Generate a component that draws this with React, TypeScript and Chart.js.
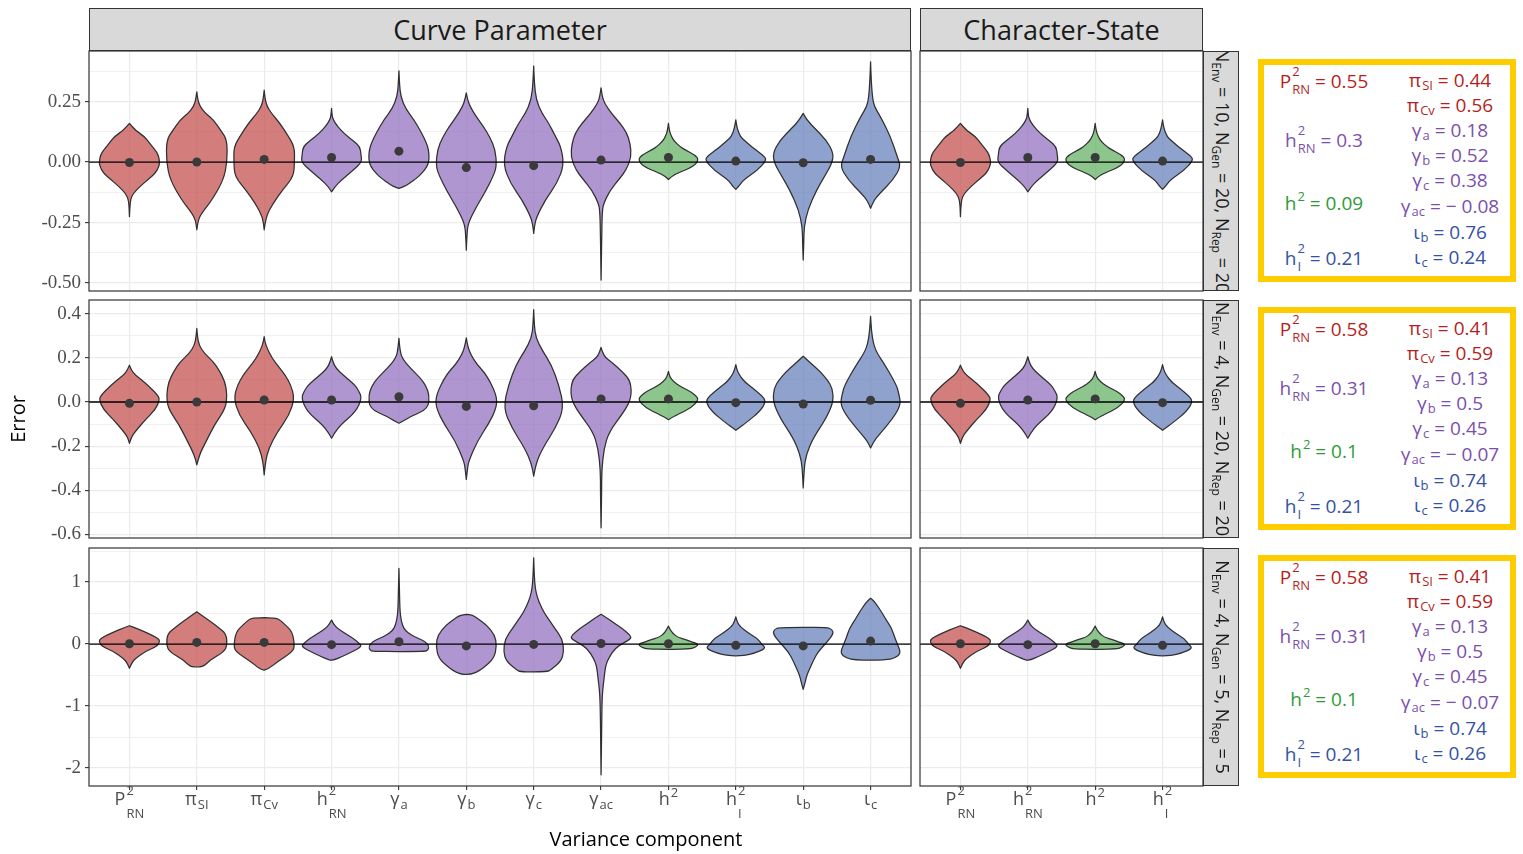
import React, { useEffect, useRef } from 'react';
import { Chart, registerables } from 'chart.js';
Chart.register(...registerables);

// ---------------- data ----------------
const CAT_GROUP = ['red', 'red', 'red', 'purple', 'purple', 'purple', 'purple', 'purple', 'green', 'blue', 'blue', 'blue'];
const STATE_INDEX = [0, 3, 8, 9];

const X_BASE = ['P', 'π', 'π', 'h', 'γ', 'γ', 'γ', 'γ', 'h', 'h', 'ι', 'ι'];
const X_SUP = ['2', '', '', '2', '', '', '', '', '2', '2', '', ''];
const X_SUB = ['RN', 'SI', 'Cv', 'RN', 'a', 'b', 'c', 'ac', '', 'I', 'b', 'c'];

const ROW1_MAJOR = [-0.5, -0.25, 0, 0.25];
const ROW1_MINOR = [-0.375, -0.125, 0.125, 0.375];
const ROW1_LABELS = ['-0.50', '-0.25', '0.00', '0.25'];
const ROW2_MAJOR = [-0.6, -0.4, -0.2, 0, 0.2, 0.4];
const ROW2_MINOR = [-0.5, -0.3, -0.1, 0.1, 0.3];
const ROW2_LABELS = ['-0.6', '-0.4', '-0.2', '0.0', '0.2', '0.4'];
const ROW3_MAJOR = [-2, -1, 0, 1];
const ROW3_MINOR = [-1.5, -0.5, 0.5, 1.5];
const ROW3_LABELS = ['-2', '-1', '0', '1'];
const ROW_LIMITS = [[-0.533, 0.459], [-0.616, 0.462], [-2.29, 1.55]];

// violin profiles: [value, relative half-width]
const ROW1_PROFILES = [
  [[-0.226, 0], [-0.16, 0.02], [-0.13, 0.12], [-0.1, 0.36], [-0.07, 0.63], [-0.047, 0.85], [-0.02, 0.97], [0, 1], [0.03, 0.95], [0.05, 0.85], [0.08, 0.65], [0.105, 0.5], [0.132, 0.19], [0.16, 0]],
  [[-0.28, 0], [-0.24, 0.04], [-0.21, 0.17], [-0.157, 0.5], [-0.074, 0.88], [0, 1], [0.09, 1], [0.13, 0.8], [0.174, 0.55], [0.2, 0.3], [0.23, 0.1], [0.26, 0.03], [0.29, 0]],
  [[-0.28, 0], [-0.226, 0.05], [-0.17, 0.3], [-0.116, 0.6], [-0.06, 0.97], [0, 1], [0.063, 1], [0.11, 0.78], [0.16, 0.52], [0.2, 0.25], [0.228, 0.1], [0.26, 0.03], [0.297, 0]],
  [[-0.123, 0], [-0.1, 0.12], [-0.074, 0.33], [-0.033, 0.72], [0, 1], [0.03, 0.97], [0.063, 0.94], [0.09, 0.7], [0.118, 0.41], [0.15, 0.18], [0.174, 0.06], [0.19, 0.02], [0.222, 0]],
  [[-0.109, 0], [-0.1, 0.2], [-0.088, 0.35], [-0.065, 0.6], [-0.047, 0.75], [-0.02, 0.93], [0.01, 1], [0.05, 0.98], [0.08, 0.9], [0.12, 0.75], [0.174, 0.5], [0.22, 0.22], [0.27, 0.06], [0.32, 0.02], [0.377, 0]],
  [[-0.364, 0], [-0.3, 0.02], [-0.253, 0.06], [-0.185, 0.33], [-0.116, 0.66], [-0.06, 0.88], [-0.019, 1], [0.05, 0.96], [0.105, 0.77], [0.15, 0.55], [0.187, 0.33], [0.23, 0.12], [0.26, 0.04], [0.286, 0]],
  [[-0.295, 0], [-0.26, 0.03], [-0.226, 0.1], [-0.157, 0.38], [-0.088, 0.77], [-0.012, 1], [0.063, 0.9], [0.11, 0.7], [0.16, 0.5], [0.2, 0.28], [0.256, 0.08], [0.33, 0.02], [0.397, 0]],
  [[-0.488, 0], [-0.3, 0.02], [-0.2, 0.04], [-0.17, 0.09], [-0.116, 0.3], [-0.07, 0.6], [-0.033, 0.83], [0.022, 1], [0.077, 0.96], [0.12, 0.85], [0.16, 0.63], [0.2, 0.35], [0.242, 0.12], [0.27, 0.04], [0.307, 0]],
  [[-0.072, 0], [-0.06, 0.1], [-0.047, 0.28], [-0.019, 0.83], [0.01, 1], [0.029, 0.88], [0.05, 0.55], [0.063, 0.39], [0.085, 0.2], [0.105, 0.1], [0.13, 0.03], [0.16, 0]],
  [[-0.113, 0], [-0.1, 0.1], [-0.074, 0.25], [-0.033, 0.72], [0.006, 1], [0.022, 0.96], [0.063, 0.52], [0.09, 0.28], [0.105, 0.15], [0.14, 0.04], [0.174, 0]],
  [[-0.405, 0], [-0.33, 0.02], [-0.267, 0.03], [-0.198, 0.15], [-0.116, 0.44], [-0.06, 0.7], [-0.006, 0.95], [0.036, 1], [0.09, 0.77], [0.146, 0.33], [0.175, 0.12], [0.201, 0]],
  [[-0.191, 0], [-0.16, 0.1], [-0.13, 0.3], [-0.074, 0.74], [-0.019, 1], [0.022, 0.88], [0.105, 0.66], [0.187, 0.33], [0.23, 0.12], [0.27, 0.06], [0.34, 0.02], [0.414, 0]],
];
const ROW1_MEANS = [-0.002, 0.0, 0.011, 0.019, 0.045, -0.023, -0.015, 0.008, 0.019, 0.004, -0.003, 0.011];

const ROW2_PROFILES = [
  [[-0.187, 0], [-0.16, 0.06], [-0.134, 0.19], [-0.081, 0.52], [-0.036, 0.85], [0.01, 1], [0.032, 0.93], [0.077, 0.6], [0.1, 0.4], [0.122, 0.2], [0.145, 0.06], [0.167, 0]],
  [[-0.285, 0], [-0.24, 0.08], [-0.18, 0.3], [-0.104, 0.58], [-0.029, 0.95], [0.032, 1], [0.092, 0.93], [0.14, 0.75], [0.182, 0.55], [0.22, 0.25], [0.258, 0.07], [0.3, 0.02], [0.333, 0]],
  [[-0.33, 0], [-0.27, 0.04], [-0.21, 0.15], [-0.134, 0.44], [-0.059, 0.83], [0.017, 1], [0.077, 0.88], [0.12, 0.7], [0.152, 0.52], [0.2, 0.25], [0.243, 0.1], [0.27, 0.03], [0.296, 0]],
  [[-0.164, 0], [-0.14, 0.1], [-0.104, 0.3], [-0.044, 0.8], [0.017, 1], [0.05, 0.9], [0.077, 0.77], [0.12, 0.4], [0.152, 0.15], [0.18, 0.05], [0.205, 0]],
  [[-0.096, 0], [-0.085, 0.15], [-0.066, 0.39], [-0.029, 0.97], [0.032, 1], [0.07, 0.9], [0.107, 0.72], [0.15, 0.4], [0.198, 0.1], [0.24, 0.03], [0.288, 0]],
  [[-0.351, 0], [-0.3, 0.04], [-0.268, 0.08], [-0.178, 0.36], [-0.103, 0.72], [-0.027, 1], [0.033, 1], [0.124, 0.66], [0.17, 0.35], [0.214, 0.15], [0.25, 0.05], [0.29, 0]],
  [[-0.336, 0], [-0.28, 0.07], [-0.208, 0.3], [-0.118, 0.72], [-0.027, 1], [0.078, 0.83], [0.169, 0.58], [0.23, 0.3], [0.29, 0.07], [0.35, 0.02], [0.418, 0]],
  [[-0.57, 0], [-0.4, 0.02], [-0.31, 0.02], [-0.208, 0.1], [-0.133, 0.27], [-0.042, 0.77], [0.018, 1], [0.094, 0.98], [0.139, 0.69], [0.18, 0.35], [0.2, 0.15], [0.225, 0.05], [0.247, 0]],
  [[-0.08, 0], [-0.07, 0.12], [-0.057, 0.3], [-0.027, 0.75], [0.01, 1], [0.03, 0.9], [0.048, 0.72], [0.07, 0.4], [0.094, 0.15], [0.115, 0.04], [0.139, 0]],
  [[-0.128, 0], [-0.115, 0.12], [-0.095, 0.33], [-0.042, 0.8], [0.003, 1], [0.03, 0.85], [0.063, 0.55], [0.09, 0.3], [0.116, 0.15], [0.14, 0.05], [0.169, 0]],
  [[-0.389, 0], [-0.3, 0.03], [-0.238, 0.1], [-0.163, 0.33], [-0.072, 0.77], [0.003, 1], [0.063, 0.96], [0.1, 0.8], [0.139, 0.55], [0.175, 0.25], [0.207, 0]],
  [[-0.208, 0], [-0.18, 0.1], [-0.148, 0.28], [-0.072, 0.75], [-0.012, 1], [0.04, 0.93], [0.078, 0.85], [0.169, 0.47], [0.22, 0.22], [0.259, 0.1], [0.32, 0.03], [0.388, 0]],
];
const ROW2_MEANS = [-0.006, 0.0, 0.009, 0.009, 0.024, -0.02, -0.017, 0.014, 0.014, -0.003, -0.009, 0.008];

const ROW3_PROFILES = [
  [[-0.39, 0], [-0.3, 0.08], [-0.23, 0.2], [-0.12, 0.52], [-0.04, 0.9], [0.03, 1], [0.09, 0.97], [0.2, 0.5], [0.26, 0.2], [0.296, 0]],
  [[-0.37, 0], [-0.365, 0.2], [-0.3, 0.35], [-0.26, 0.45], [-0.12, 0.9], [-0.02, 1], [0.17, 0.97], [0.27, 0.7], [0.36, 0.47], [0.45, 0.2], [0.52, 0]],
  [[-0.42, 0], [-0.4, 0.15], [-0.28, 0.45], [-0.12, 0.95], [-0.02, 1], [0.2, 0.93], [0.33, 0.65], [0.41, 0.47], [0.42, 0.3], [0.425, 0]],
  [[-0.26, 0], [-0.255, 0.1], [-0.2, 0.35], [-0.12, 0.7], [-0.04, 1], [0.02, 0.9], [0.09, 0.72], [0.17, 0.45], [0.25, 0.2], [0.32, 0.07], [0.387, 0]],
  [[-0.12, 0], [-0.118, 0.85], [-0.1, 0.95], [-0.04, 1], [0.04, 0.88], [0.1, 0.6], [0.145, 0.41], [0.22, 0.2], [0.31, 0.11], [0.45, 0.05], [0.6, 0.03], [0.8, 0.02], [1.22, 0]],
  [[-0.49, 0], [-0.485, 0.15], [-0.45, 0.35], [-0.39, 0.55], [-0.23, 0.92], [-0.02, 1], [0.145, 0.94], [0.31, 0.66], [0.4, 0.4], [0.47, 0.2], [0.48, 0]],
  [[-0.45, 0], [-0.445, 0.45], [-0.42, 0.55], [-0.28, 0.9], [-0.12, 1], [0.09, 0.94], [0.25, 0.7], [0.36, 0.55], [0.5, 0.35], [0.63, 0.22], [0.75, 0.12], [0.9, 0.05], [1.1, 0.02], [1.39, 0]],
  [[-2.11, 0], [-1.2, 0.02], [-0.8, 0.04], [-0.55, 0.1], [-0.34, 0.15], [-0.23, 0.25], [-0.07, 0.45], [0.02, 0.75], [0.09, 1], [0.15, 0.95], [0.25, 0.7], [0.33, 0.45], [0.42, 0.2], [0.48, 0]],
  [[-0.085, 0], [-0.08, 0.7], [-0.05, 0.9], [0, 1], [0.04, 0.75], [0.065, 0.61], [0.11, 0.3], [0.17, 0.15], [0.23, 0.06], [0.29, 0]],
  [[-0.19, 0], [-0.185, 0.3], [-0.15, 0.6], [-0.07, 1], [0.0, 0.85], [0.09, 0.72], [0.18, 0.4], [0.28, 0.15], [0.35, 0.05], [0.44, 0]],
  [[-0.73, 0], [-0.61, 0.07], [-0.5, 0.12], [-0.39, 0.22], [-0.25, 0.35], [-0.12, 0.5], [0.04, 0.8], [0.17, 1], [0.24, 0.95], [0.27, 0.77], [0.27, 0]],
  [[-0.26, 0], [-0.255, 0.5], [-0.23, 0.8], [-0.15, 1], [-0.02, 0.9], [0.1, 0.8], [0.25, 0.7], [0.4, 0.5], [0.52, 0.36], [0.62, 0.22], [0.7, 0.1], [0.74, 0]],
];
const ROW3_MEANS = [0.005, 0.027, 0.027, -0.01, 0.037, -0.03, -0.005, 0.01, 0.005, -0.02, -0.03, 0.048];

const BOX_LEFT_BASE = ['P', 'h', 'h', 'h'];
const BOX_LEFT_SUP = ['2', '2', '2', '2'];
const BOX_LEFT_SUB = ['RN', 'RN', '', 'I'];
const BOX_LEFT_GROUP = ['red', 'purple', 'green', 'blue'];
const BOX_RIGHT_BASE = ['π', 'π', 'γ', 'γ', 'γ', 'γ', 'ι', 'ι'];
const BOX_RIGHT_SUB = ['SI', 'Cv', 'a', 'b', 'c', 'ac', 'b', 'c'];
const BOX_RIGHT_GROUP = ['red', 'red', 'purple', 'purple', 'purple', 'purple', 'blue', 'blue'];
const BOX_LEFT_VALUES = [['0.55', '0.3', '0.09', '0.21'], ['0.58', '0.31', '0.1', '0.21'], ['0.58', '0.31', '0.1', '0.21']];
const BOX_RIGHT_VALUES = [
  ['0.44', '0.56', '0.18', '0.52', '0.38', '− 0.08', '0.76', '0.24'],
  ['0.41', '0.59', '0.13', '0.5', '0.45', '− 0.07', '0.74', '0.26'],
  ['0.41', '0.59', '0.13', '0.5', '0.45', '− 0.07', '0.74', '0.26'],
];
const STRIP_ENV = ['10', '4', '4'];
const STRIP_GEN = ['20', '20', '5'];
const STRIP_REP = ['20', '20', '5'];
const COL_STRIPS = ['Curve Parameter', 'Character-State'];

// ---------------- styling / layout ----------------
const ROW_PROFILES = [ROW1_PROFILES, ROW2_PROFILES, ROW3_PROFILES];
const ROW_MEANS = [ROW1_MEANS, ROW2_MEANS, ROW3_MEANS];
const ROW_MAJOR = [ROW1_MAJOR, ROW2_MAJOR, ROW3_MAJOR];
const ROW_MINOR = [ROW1_MINOR, ROW2_MINOR, ROW3_MINOR];
const ROW_LABELS = [ROW1_LABELS, ROW2_LABELS, ROW3_LABELS];

const HALF_WIDTH = 0.45;
const FILL: Record<string, string> = {
  red: 'rgba(196,82,82,0.75)',
  purple: 'rgba(150,115,192,0.75)',
  green: 'rgba(102,179,102,0.75)',
  blue: 'rgba(106,131,190,0.75)',
};
const TEXT_COLOR: Record<string, string> = {
  red: '#B51F24',
  purple: '#7B50AC',
  green: '#2F9A35',
  blue: '#3451A6',
};
const COL_LEFT = [89, 920];
const COL_RIGHT = [911, 1203];
const ROW_TOP = [51, 300, 548];
const ROW_BOTTOM = [291, 538, 786];
const FONT = '"Open Sans", "DejaVu Sans", sans-serif';

function smoothSide(ctx: CanvasRenderingContext2D, pts: { x: number; y: number }[], start: boolean) {
  if (start) ctx.moveTo(pts[0].x, pts[0].y);
  else ctx.lineTo(pts[0].x, pts[0].y);
  for (let i = 1; i < pts.length - 1; i++) {
    const mx = (pts[i].x + pts[i + 1].x) / 2;
    const my = (pts[i].y + pts[i + 1].y) / 2;
    ctx.quadraticCurveTo(pts[i].x, pts[i].y, mx, my);
  }
  const last = pts[pts.length - 1];
  ctx.lineTo(last.x, last.y);
}

function zeroPadding(s: any) {
  s.paddingTop = 0;
  s.paddingBottom = 0;
  s.paddingLeft = 0;
  s.paddingRight = 0;
}

function Panel({ row, col }: { row: number; col: number }) {
  const ref = useRef<HTMLCanvasElement>(null);
  const canvasLeft = col === 0 ? 0 : 918;
  const yAxisW = COL_LEFT[col] - canvasLeft;
  const canvasW = COL_RIGHT[col] + 2 - canvasLeft;
  const canvasTop = ROW_TOP[row] - 2;
  const isBottom = row === 2;
  const xAxisH = isBottom ? 46 : 0;
  const canvasH = ROW_BOTTOM[row] - canvasTop + (isBottom ? xAxisH : 2);

  useEffect(() => {
    const cats = col === 0 ? CAT_GROUP.map((_, i) => i) : STATE_INDEX;
    const profiles = cats.map((i) => ROW_PROFILES[row][i]);
    const groups = cats.map((i) => CAT_GROUP[i]);
    const means = cats.map((i) => ROW_MEANS[row][i]);
    const major = ROW_MAJOR[row];
    const minor = ROW_MINOR[row];
    const labels = ROW_LABELS[row];
    const isMajor = (v: number) => major.some((m) => Math.abs(m - v) < 1e-9);

    const decor = {
      id: 'panelDecor',
      beforeDatasetsDraw(chart: any) {
        const { ctx, chartArea, scales } = chart;
        const xs = scales.x;
        const ys = scales.y;
        ctx.save();
        ctx.beginPath();
        ctx.rect(chartArea.left, chartArea.top, chartArea.right - chartArea.left, chartArea.bottom - chartArea.top);
        ctx.clip();
        profiles.forEach((prof: number[][], i: number) => {
          const c = i + 1;
          const right = prof.map(([v, w]) => ({ x: xs.getPixelForValue(c + w * HALF_WIDTH), y: ys.getPixelForValue(v) }));
          const left = prof.slice().reverse().map(([v, w]) => ({ x: xs.getPixelForValue(c - w * HALF_WIDTH), y: ys.getPixelForValue(v) }));
          ctx.beginPath();
          smoothSide(ctx, right, true);
          smoothSide(ctx, left, false);
          ctx.closePath();
          ctx.fillStyle = FILL[groups[i]];
          ctx.fill();
          ctx.lineWidth = 1.25;
          ctx.lineJoin = 'round';
          ctx.strokeStyle = '#303030';
          ctx.stroke();
        });
        const y0 = ys.getPixelForValue(0);
        ctx.beginPath();
        ctx.moveTo(chartArea.left, y0);
        ctx.lineTo(chartArea.right, y0);
        ctx.lineWidth = 1.3;
        ctx.strokeStyle = '#000000';
        ctx.stroke();
        ctx.restore();
      },
      afterDraw(chart: any) {
        const { ctx, chartArea, scales } = chart;
        ctx.save();
        ctx.lineWidth = 1.2;
        ctx.strokeStyle = '#333333';
        ctx.strokeRect(chartArea.left, chartArea.top, chartArea.right - chartArea.left, chartArea.bottom - chartArea.top);
        if (isBottom) {
          const xs = scales.x;
          const baseY = chartArea.bottom + 19;
          ctx.fillStyle = '#4D4D4D';
          ctx.textBaseline = 'alphabetic';
          ctx.textAlign = 'left';
          cats.forEach((ci: number, i: number) => {
            const cx = xs.getPixelForValue(i + 1);
            const base = X_BASE[ci];
            const sup = X_SUP[ci];
            const sub = X_SUB[ci];
            ctx.font = `18px ${FONT}`;
            const wb = ctx.measureText(base).width;
            ctx.font = `13px ${FONT}`;
            const ws = Math.max(sup ? ctx.measureText(sup).width : 0, sub ? ctx.measureText(sub).width : 0);
            const gap = ws > 0 ? 1 : 0;
            const start = cx - (wb + gap + ws) / 2;
            ctx.font = `18px ${FONT}`;
            ctx.fillText(base, start, baseY);
            ctx.font = `13px ${FONT}`;
            const stacked = !!sup && !!sub;
            if (sup) ctx.fillText(sup, start + wb + gap, baseY - (stacked ? 10 : 8));
            if (sub) ctx.fillText(sub, start + wb + gap, baseY + (stacked ? 13 : 4));
          });
        }
        ctx.restore();
      },
    };

    const yTicks = [...major, ...minor].sort((a, b) => a - b);
    const chart = new Chart(ref.current as HTMLCanvasElement, {
      type: 'scatter',
      data: {
        datasets: [
          {
            data: means.map((m, i) => ({ x: i + 1, y: m })),
            pointRadius: 4.5,
            pointHoverRadius: 4.5,
            pointBackgroundColor: '#3a3a3a',
            pointBorderWidth: 0,
          },
        ],
      },
      options: {
        animation: false,
        responsive: false,
        events: [],
        layout: { autoPadding: false, padding: { left: 0, right: 2, top: 2, bottom: isBottom ? 0 : 2 } },
        plugins: { legend: { display: false }, tooltip: { enabled: false } },
        scales: {
          x: {
            type: 'linear',
            min: 0.4,
            max: cats.length + 0.6,
            bounds: 'data',
            afterBuildTicks: (s: any) => {
              s.ticks = cats.map((_: number, i: number) => ({ value: i + 1 }));
            },
            afterFit: (s: any) => {
              s.height = xAxisH;
              zeroPadding(s);
            },
            border: { display: false },
            grid: {
              color: '#EBEBEB',
              lineWidth: 1.2,
              drawTicks: isBottom,
              tickLength: 4,
              tickColor: '#333333',
              tickWidth: 1.1,
            },
            ticks: { display: false, autoSkip: false },
          },
          y: {
            type: 'linear',
            min: ROW_LIMITS[row][0],
            max: ROW_LIMITS[row][1],
            bounds: 'data',
            afterBuildTicks: (s: any) => {
              s.ticks = yTicks.map((v) => ({ value: v }));
            },
            afterFit: (s: any) => {
              s.width = yAxisW;
              zeroPadding(s);
            },
            border: { display: false },
            grid: {
              color: '#EBEBEB',
              lineWidth: (c: any) => (c.tick && isMajor(c.tick.value) ? 1.2 : 0.7),
              drawTicks: col === 0,
              tickLength: 4,
              tickColor: (c: any) => (c.tick && isMajor(c.tick.value) ? '#333333' : 'rgba(0,0,0,0)'),
              tickWidth: 1.1,
            },
            ticks: {
              display: col === 0,
              autoSkip: false,
              padding: 4,
              color: '#4D4D4D',
              font: { family: '"Liberation Serif", serif', size: 19 },
              callback: (v: any) => {
                const k = major.findIndex((m) => Math.abs(m - Number(v)) < 1e-9);
                return k >= 0 ? labels[k] : '';
              },
            },
            title: {
              display: col === 0 && row === 1,
              text: 'Error',
              color: '#000000',
              font: { family: FONT, size: 20 },
              padding: { top: 7, bottom: 0 },
            },
          },
        },
      },
      plugins: [decor],
    } as any);
    return () => chart.destroy();
  }, []);

  return (
    <canvas
      ref={ref}
      width={canvasW}
      height={canvasH}
      style={{ position: 'absolute', left: canvasLeft, top: canvasTop, width: canvasW, height: canvasH }}
    />
  );
}

function Scripts({ sup, sub, fs, supOff, subOff, stackSupOff, stackSubOff }: any) {
  const s = Math.round(fs * 0.7);
  if (sup && sub) {
    const supInFlow = sup.length >= sub.length;
    const inflow = supInFlow ? sup : sub;
    const abs = supInFlow ? sub : sup;
    return (
      <span style={{ display: 'inline-block', position: 'relative', fontSize: s, lineHeight: 0, marginLeft: 1 }}>
        <span style={{ position: 'relative', top: supInFlow ? stackSupOff : stackSubOff }}>{inflow}</span>
        <span style={{ position: 'absolute', left: 0, top: supInFlow ? stackSubOff : stackSupOff }}>{abs}</span>
      </span>
    );
  }
  if (sup) return <span style={{ position: 'relative', top: supOff, fontSize: s, marginLeft: 1 }}>{sup}</span>;
  if (sub) return <span style={{ position: 'relative', top: subOff, fontSize: s, marginLeft: 1 }}>{sub}</span>;
  return null;
}

function BoxLine({ cx, baseline, color, base, sup, sub, value }: any) {
  const fs = 19;
  return (
    <div
      style={{
        position: 'absolute',
        left: cx,
        top: baseline - 0.388 * fs,
        transform: 'translateX(-50%)',
        whiteSpace: 'nowrap',
        lineHeight: 0,
        fontSize: fs,
        color,
        fontFamily: FONT,
      }}
    >
      {base}
      <Scripts sup={sup} sub={sub} fs={fs} supOff={-9} subOff={3} stackSupOff={-12} stackSubOff={6} />
      {' = ' + value}
    </div>
  );
}

const BOX_TOPS = [59, 307, 555];
const LEFT_BASELINES = [29, 88, 151, 206];
const RIGHT_BASELINES = [28, 53, 78, 103, 128, 154, 180, 205];

function AnnotationBox({ row }: { row: number }) {
  const top = BOX_TOPS[row];
  return (
    <>
      <div
        style={{
          position: 'absolute',
          left: 1258,
          top,
          width: 258,
          height: 223,
          boxSizing: 'border-box',
          border: '6px solid #FFCC00',
          background: '#FFFFFF',
        }}
      />
      {BOX_LEFT_BASE.map((b, i) => (
        <BoxLine
          key={'l' + i}
          cx={1324}
          baseline={top + LEFT_BASELINES[i]}
          color={TEXT_COLOR[BOX_LEFT_GROUP[i]]}
          base={b}
          sup={BOX_LEFT_SUP[i]}
          sub={BOX_LEFT_SUB[i]}
          value={BOX_LEFT_VALUES[row][i]}
        />
      ))}
      {BOX_RIGHT_BASE.map((b, i) => (
        <BoxLine
          key={'r' + i}
          cx={1450}
          baseline={top + RIGHT_BASELINES[i]}
          color={TEXT_COLOR[BOX_RIGHT_GROUP[i]]}
          base={b}
          sup=""
          sub={BOX_RIGHT_SUB[i]}
          value={BOX_RIGHT_VALUES[row][i]}
        />
      ))}
    </>
  );
}

function RowStrip({ row }: { row: number }) {
  const sub = (t: string) => (
    <span style={{ fontSize: 12, position: 'relative', top: 4 }}>{t}</span>
  );
  return (
    <div
      style={{
        position: 'absolute',
        left: 1203,
        top: ROW_TOP[row],
        width: 36,
        height: ROW_BOTTOM[row] - ROW_TOP[row],
        boxSizing: 'border-box',
        border: '1px solid #333333',
        background: '#D9D9D9',
        overflow: 'hidden',
      }}
    >
      <div
        style={{
          position: 'absolute',
          left: '50%',
          top: '50%',
          transform: 'translate(-50%, -50%) rotate(90deg)',
          whiteSpace: 'nowrap',
          fontSize: 18,
          lineHeight: '20px',
          color: '#1A1A1A',
          fontFamily: FONT,
        }}
      >
        N{sub('Env')} = {STRIP_ENV[row]}, N{sub('Gen')} = {STRIP_GEN[row]}, N{sub('Rep')} = {STRIP_REP[row]}
      </div>
    </div>
  );
}

function ColStrip({ col }: { col: number }) {
  return (
    <div
      style={{
        position: 'absolute',
        left: COL_LEFT[col],
        top: 8,
        width: COL_RIGHT[col] - COL_LEFT[col],
        height: 43,
        boxSizing: 'border-box',
        border: '1px solid #333333',
        background: '#D9D9D9',
        display: 'flex',
        alignItems: 'center',
        justifyContent: 'center',
        fontSize: 27,
        color: '#1A1A1A',
        fontFamily: FONT,
        lineHeight: 1,
      }}
    >
      {COL_STRIPS[col]}
    </div>
  );
}

export default function App() {
  return (
    <div
      style={{
        position: 'fixed',
        left: 0,
        top: 0,
        width: 1523,
        height: 854,
        background: '#FFFFFF',
        overflow: 'hidden',
        fontFamily: FONT,
      }}
    >
      {[0, 1, 2].map((r) => [0, 1].map((c) => <Panel key={`${r}-${c}`} row={r} col={c} />))}
      <ColStrip col={0} />
      <ColStrip col={1} />
      {[0, 1, 2].map((r) => (
        <RowStrip key={'s' + r} row={r} />
      ))}
      {[0, 1, 2].map((r) => (
        <AnnotationBox key={'b' + r} row={r} />
      ))}
      <div
        style={{
          position: 'absolute',
          left: 646,
          top: 839,
          transform: 'translateX(-50%)',
          whiteSpace: 'nowrap',
          lineHeight: 0,
          fontSize: 20,
          color: '#000000',
          fontFamily: FONT,
        }}
      >
        Variance component
      </div>
    </div>
  );
}
